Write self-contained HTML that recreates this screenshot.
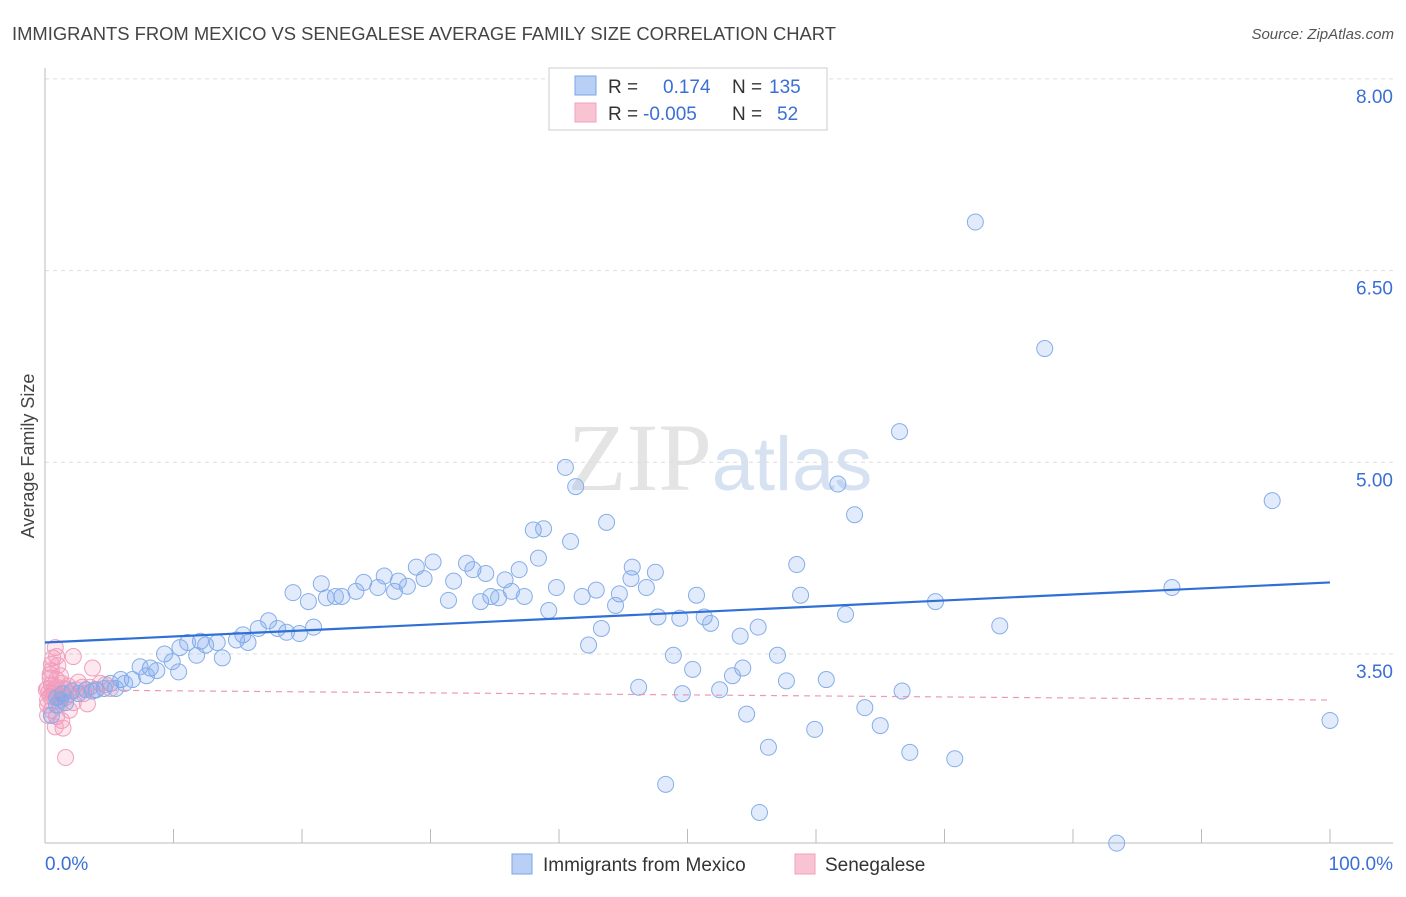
<!DOCTYPE html>
<html><head><meta charset="utf-8"><style>
body{margin:0;background:#fff;width:1406px;height:892px;overflow:hidden;font-family:"Liberation Sans",sans-serif}
</style></head><body>
<svg id="chart" width="1406" height="892" xmlns="http://www.w3.org/2000/svg" font-family="Liberation Sans, sans-serif">
<text x="12" y="40" font-size="18.4" fill="#444">IMMIGRANTS FROM MEXICO VS SENEGALESE AVERAGE FAMILY SIZE CORRELATION CHART</text>
<text x="1394" y="39" font-size="15" fill="#555" text-anchor="end" font-style="italic">Source: ZipAtlas.com</text>
<text x="720" y="490" font-size="96" fill="#e4e4e4" text-anchor="middle" font-family="Liberation Serif, serif">ZIP<tspan fill="#d6e2f2" font-family="Liberation Sans, sans-serif" font-size="76">atlas</tspan></text>
<text transform="translate(34,456) rotate(-90)" font-size="18" fill="#444" text-anchor="middle">Average Family Size</text>
<g id="grid"></g><g id="axes"></g><g id="marks"></g>
<g>
<rect x="549" y="68" width="278" height="62" fill="#fff" stroke="#ccc"/>
<rect x="575" y="76" width="21" height="19" fill="#b8d0f5" stroke="#7aa6e6"/>
<rect x="575" y="103" width="21" height="19" fill="#f8c4d4" stroke="#f0a0bc"/>
<text x="608" y="93" font-size="19" fill="#333">R = <tspan fill="#3b6fd6" x="663">0.174</tspan><tspan x="732" fill="#333">N = </tspan><tspan fill="#3b6fd6" x="769">135</tspan></text>
<text x="608" y="120" font-size="19" fill="#333">R = <tspan fill="#3b6fd6" x="643">-0.005</tspan><tspan x="732" fill="#333">N = </tspan><tspan fill="#3b6fd6" x="777">52</tspan></text>
</g>
<g>
<rect x="512" y="854" width="20" height="20" fill="#b8d0f5" stroke="#7aa6e6"/>
<text x="543" y="871" font-size="19" fill="#333">Immigrants from Mexico</text>
<rect x="795" y="854" width="20" height="20" fill="#f8c4d4" stroke="#f0a0bc"/>
<text x="825" y="871" font-size="19" fill="#333">Senegalese</text>
</g>
</svg>
<script>
const yTicks=[3.5,5.0,6.5,8.0];
const yTickLabels=["3.50","5.00","6.50","8.00"];
const xTickLabels=["0.0%","100.0%"];
const mexX=[72.4,77.8,66.5,40.5,41.3,61.7,63.0,95.5,43.7,38.0,38.8,40.9,38.4,45.7,47.5,45.6,58.5,30.2,32.8,28.9,33.3,34.3,36.9,26.4,27.5,28.2,29.5,31.8,35.8,21.5,24.8,24.2,23.1,22.6,21.9,25.9,27.2,31.4,33.9,34.7,35.3,36.3,37.3,39.8,41.8,42.9,44.7,46.8,50.7,44.4,39.2,58.8,87.7,69.3,20.5,19.3,17.4,16.6,18.1,18.8,19.8,20.9,15.4,14.9,12.1,11.1,12.5,13.4,15.8,47.7,49.4,51.3,51.8,43.3,55.5,62.3,54.1,74.3,42.3,48.9,50.4,57.0,54.3,53.5,57.7,60.8,46.2,49.6,52.5,66.7,54.6,63.8,65.0,59.9,56.3,67.3,70.8,48.3,55.6,83.4,100,9.3,10.5,11.8,13.8,9.9,8.2,7.4,8.7,10.4,7.9,6.8,5.9,6.2,5.1,5.5,4.6,4.0,3.7,3.2,2.1,2.6,1.4,0.9,1.6,0.9,0.5,1.2];
const mexY=[6.88,5.89,5.24,4.96,4.81,4.83,4.59,4.70,4.53,4.47,4.48,4.38,4.25,4.18,4.14,4.09,4.20,4.22,4.21,4.18,4.16,4.13,4.16,4.11,4.07,4.03,4.09,4.07,4.08,4.05,4.06,3.99,3.95,3.95,3.94,4.02,3.99,3.92,3.91,3.95,3.94,3.99,3.95,4.02,3.95,4.00,3.97,4.02,3.96,3.88,3.84,3.96,4.02,3.91,3.91,3.98,3.76,3.70,3.70,3.67,3.66,3.71,3.65,3.61,3.60,3.59,3.57,3.59,3.59,3.79,3.78,3.79,3.74,3.70,3.71,3.81,3.64,3.72,3.57,3.49,3.38,3.49,3.39,3.33,3.29,3.30,3.24,3.19,3.22,3.21,3.03,3.08,2.94,2.91,2.77,2.73,2.68,2.48,2.26,2.02,2.98,3.50,3.55,3.49,3.47,3.44,3.39,3.40,3.37,3.36,3.33,3.30,3.30,3.27,3.27,3.23,3.23,3.22,3.21,3.22,3.21,3.19,3.19,3.16,3.12,3.10,3.02,3.14];
const senX=[0.8,0.6,0.9,2.2,3.7,0.5,0.4,0.9,1.3,2.6,0.2,0.7,1.6,1.9,2.9,3.5,4.3,0.4,1.0,1.6,3.3,2.2,0.5,0.9,0.8,1.4,1.6,1.2,0.2,0.5,0.6,0.9,0.3,1.3,1.8,4.7,0.2,1.1,0.7,0.1,0.4,1.2,1.5,2.4,3.0,3.9,5.1,0.5,1.0,1.9,0.2,1.3];
const senY=[3.55,3.47,3.48,3.48,3.39,3.37,3.31,3.30,3.27,3.28,3.23,3.22,3.22,3.19,3.24,3.24,3.27,3.17,3.16,3.16,3.11,3.12,3.06,3.01,2.93,2.92,2.69,3.14,3.14,3.26,3.20,3.24,3.20,3.19,3.25,3.26,3.10,3.10,3.16,3.22,3.34,3.33,3.23,3.22,3.19,3.22,3.23,3.42,3.41,3.06,3.02,2.98];
const mexTrend=[3.59,4.06];
const senTrend=[3.22,3.14];
const NS="http://www.w3.org/2000/svg";
const xs=p=>45+p*12.85;
const ys=v=>654-(v-3.5)*127.8;
function mk(tag,attrs,parent){const e=document.createElementNS(NS,tag);for(const k in attrs)e.setAttribute(k,attrs[k]);document.getElementById(parent).appendChild(e);return e;}
yTicks.forEach((v,i)=>{
 const l=mk('line',{x1:45,x2:1393,y1:ys(v),y2:ys(v),stroke:'#ddd','stroke-dasharray':'4,4'},'grid');
 
 
 const t=mk('text',{x:1393,y:ys(v)+24,'font-size':19,fill:'#3b6fd6','text-anchor':'end'},'axes');
 t.textContent=yTickLabels[i];
 
 
});
const ax=mk('line',{x1:45,x2:45,y1:68,y2:843,stroke:'#bbb'},'axes');


const bx=mk('line',{x1:45,x2:1393,y1:843,y2:843,stroke:'#bbb'},'axes');


for(let i=0;i<=10;i++){
 const t=mk('line',{x1:xs(i*10),x2:xs(i*10),y1:829,y2:843,stroke:'#bbb'},'axes');
 
 
}
[[0,'start',45],[100,'end',1393]].forEach((d,i)=>{
 const t=mk('text',{x:d[2],y:870,'font-size':19,fill:'#3b6fd6','text-anchor':d[1]},'axes');
 t.textContent=xTickLabels[i];
 
 
});
senX.forEach((x,i)=>{
 const c=mk('circle',{cx:xs(x),cy:ys(senY[i]),r:8,fill:'rgba(245,150,185,0.22)',stroke:'#f0a0bc','stroke-width':1},'marks');
 
 
});
mexX.forEach((x,i)=>{
 const c=mk('circle',{cx:xs(x),cy:ys(mexY[i]),r:8,fill:'rgba(120,165,235,0.22)',stroke:'#86aee8','stroke-width':1},'marks');
 
 
});
const tl=mk('line',{x1:xs(0),x2:xs(100),y1:ys(mexTrend[0]),y2:ys(mexTrend[1]),stroke:'#2f6fd6','stroke-width':2.2},'marks');


const tp=mk('line',{x1:xs(0),x2:xs(100),y1:ys(senTrend[0]),y2:ys(senTrend[1]),stroke:'#eb9ab5','stroke-width':1.2,'stroke-dasharray':'6,5'},'marks');


</script>
</body></html>
